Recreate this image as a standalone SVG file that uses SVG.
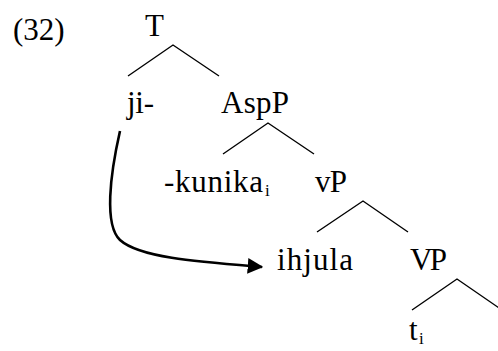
<svg xmlns="http://www.w3.org/2000/svg" width="498" height="351" viewBox="0 0 498 351">
  <style>
    text { font-family: "Liberation Serif", "Times New Roman", serif; font-size: 31px; fill: #000; }
    text.sub { font-size: 17px; }
    .branch { stroke: #000; stroke-width: 1.4; fill: none; }
    .move { stroke: #000; stroke-width: 2.6; fill: none; }
  </style>
  <defs>
    <marker id="head" markerWidth="6" markerHeight="6" refX="5.5" refY="3" orient="auto" markerUnits="strokeWidth">
      <path d="M0,0 L6,3 L0,6 Z" fill="#000"/>
    </marker>
  </defs>
  <rect width="498" height="351" fill="#fff"/>

  <text x="13" y="40">(32)</text>

  <g id="n-T"><text x="145" y="36">T</text></g>
  <g id="n-ji"><text x="127" y="113" textLength="27">ji-</text></g>
  <g id="n-AspP"><text x="221" y="113" textLength="68">AspP</text></g>
  <g id="n-kunika">
    <text x="164" y="192" textLength="99">-kunika</text>
    <text class="sub" x="265" y="196">i</text>
  </g>
  <g id="n-vP"><text x="315" y="192" textLength="32">vP</text></g>
  <g id="n-ihjula"><text x="277" y="270" textLength="76">ihjula</text></g>
  <g id="n-VP"><text x="410" y="270" textLength="37">VP</text></g>
  <g id="n-t">
    <text x="409" y="340">t</text>
    <text class="sub" x="419" y="344">i</text>
  </g>

  <g id="connectors">
    <polyline class="branch" points="128,76 173,45 219,76"/>
    <polyline class="branch" points="223,154 268,123 314,154"/>
    <polyline class="branch" points="317,232 363,201 408,232"/>
    <polyline class="branch" points="412,310 457,279 502,310"/>
    <path class="move" d="M120,131 C110,175 104,225 120,240 C140,258 200,262 262,267" marker-end="url(#head)"/>
  </g>
</svg>
